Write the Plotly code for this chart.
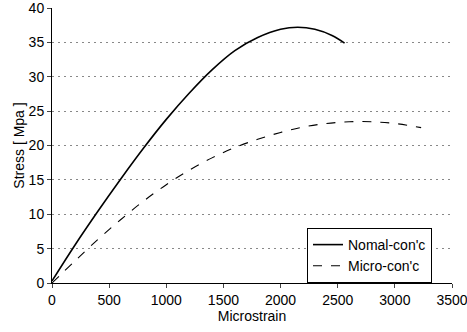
import plotly.graph_objects as go

normal_strain = [0, 200, 400, 600, 800, 1000, 1200, 1400, 1600, 1800, 2000, 2150, 2300, 2450, 2560]
normal_stress = [0.3, 5.5, 10.4, 15.1, 19.6, 23.8, 27.6, 31.0, 33.8, 35.7, 36.9, 37.2, 36.9, 36.0, 34.9]

micro_strain = [0, 200, 400, 600, 800, 1000, 1200, 1400, 1600, 1800, 2000, 2200, 2400, 2600, 2800, 3000, 3230]
micro_stress = [0, 3.2, 6.3, 9.2, 11.9, 14.3, 16.4, 18.2, 19.7, 20.9, 21.9, 22.7, 23.2, 23.45, 23.45, 23.2, 22.6]

x_ticks = [0, 500, 1000, 1500, 2000, 2500, 3000, 3500]
y_ticks = [0, 5, 10, 15, 20, 25, 30, 35, 40]

font_family = "Liberation Sans, Arial, sans-serif"

fig = go.Figure()
fig.add_trace(go.Scatter(x=normal_strain, y=normal_stress, mode="lines", name="Nomal-con'c",
                         line=dict(color="black", width=1.6, shape="spline")))
fig.add_trace(go.Scatter(x=micro_strain, y=micro_stress, mode="lines", name="Micro-con'c",
                         line=dict(color="black", width=1.1, dash="dash", shape="spline")))

fig.update_layout(
    width=467, height=332,
    margin=dict(l=52, r=15, t=8, b=49),
    paper_bgcolor="white", plot_bgcolor="white",
    font=dict(family=font_family, size=14, color="black"),
    showlegend=True,
    legend=dict(x=0.6375, y=0.2, xanchor="left", yanchor="top",
                bordercolor="black", borderwidth=1, bgcolor="white",
                font=dict(size=14), tracegroupgap=0),
    xaxis=dict(range=[0, 3500], tickvals=x_ticks, ticks="outside", ticklen=4,
               showline=True, linecolor="black", linewidth=1, showgrid=False,
               automargin=False, ticklabeloverflow="allow",
               zeroline=False, title=dict(text="Microstrain", standoff=0,
                                         font=dict(size=14))),
    yaxis=dict(range=[0, 40], tickvals=y_ticks, ticks="outside", ticklen=4,
               showline=True, linecolor="black", linewidth=1,
               showgrid=True, gridcolor="#888", griddash="2px,4px", gridwidth=1,
               automargin=False, ticklabeloverflow="allow",
               zeroline=False, title=dict(text="Stress [ Mpa ]", standoff=0,
                                         font=dict(size=14))),
)

fig.write_html("out.html", config={"displayModeBar": False},
               post_script="document.body.style.margin='0';")
